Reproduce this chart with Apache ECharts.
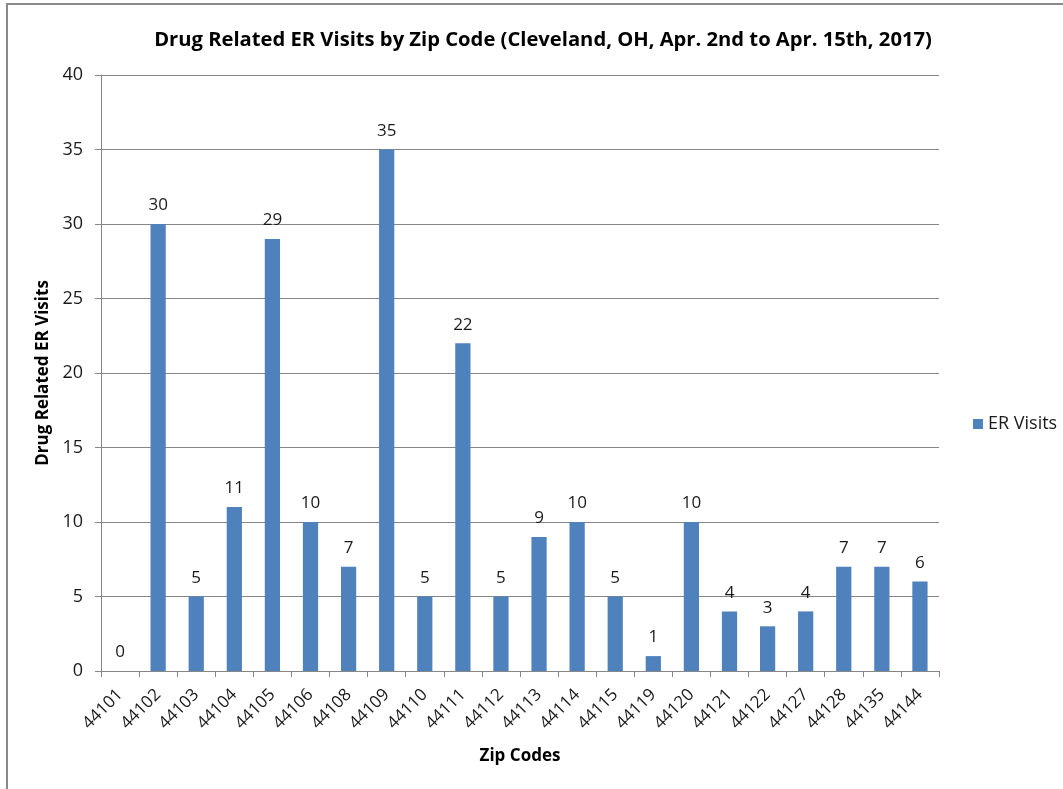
<!DOCTYPE html>
<html><head><meta charset="utf-8">
<script src="https://cdn.jsdelivr.net/npm/echarts@6/dist/echarts.min.js"></script>
<style>html,body{margin:0;padding:0;background:#fff;}#c{width:1063px;height:789px;}</style>
</head><body><div id="c"></div>
<script>
const categories = ['44101','44102','44103','44104','44105','44106','44108','44109','44110','44111','44112','44113','44114','44115','44119','44120','44121','44122','44127','44128','44135','44144'];
const erVisits = [0,30,5,11,29,10,7,35,5,22,5,9,10,5,1,10,4,3,4,7,7,6];
const yTicks = {min:0, max:40, interval:5};
const FONT = '"Open Sans", "Liberation Sans", sans-serif';
const chart = echarts.init(document.getElementById('c'));
chart.setOption({
  animation:false,
  textStyle:{fontFamily:FONT},
  graphic:[{type:'rect',shape:{x:7,y:4,width:1200,height:1000},style:{fill:'none',stroke:'#898989',lineWidth:2},z:-1}],
  title:{text:'Drug Related ER Visits by Zip Code (Cleveland, OH, Apr. 2nd to Apr. 15th, 2017)',left:538,top:25,textAlign:'center',
    textStyle:{fontSize:20.2,fontWeight:'bold',color:'#000',fontFamily:FONT}},
  legend:{data:['ER Visits'],left:968,top:410,itemWidth:10,itemHeight:10,itemGap:5,icon:'rect',
    textStyle:{fontSize:18,color:'#1a1a1a',fontFamily:FONT}},
  grid:{left:101,right:124,top:75,bottom:118,containLabel:false},
  xAxis:{type:'category',data:categories,name:'Zip Codes',nameLocation:'middle',nameGap:77,
    nameTextStyle:{fontSize:17,fontWeight:'bold',color:'#000'},
    axisLine:{lineStyle:{color:'#868686',width:1}},
    axisTick:{show:true,alignWithLabel:false,length:6,lineStyle:{color:'#868686'}},
    axisLabel:{rotate:45,fontSize:17,color:'#1a1a1a',margin:21,interval:0}},
  yAxis:{type:'value',min:yTicks.min,max:yTicks.max,interval:yTicks.interval,name:'Drug Related ER Visits',nameLocation:'middle',nameGap:45,
    nameTextStyle:{fontSize:17,fontWeight:'bold',color:'#000'},
    axisLine:{show:true,lineStyle:{color:'#868686'}},
    axisTick:{show:true,length:6,lineStyle:{color:'#868686'}},
    splitLine:{lineStyle:{color:'#868686',width:1}},
    axisLabel:{fontSize:18,color:'#1a1a1a',margin:18}},
  series:[{name:'ER Visits',type:'bar',data:erVisits,barCategoryGap:'60%',
    itemStyle:{color:'#4F81BD'},
    label:{show:true,position:'top',distance:10,fontSize:17,color:'#1a1a1a'}}]
});
</script></body></html>
